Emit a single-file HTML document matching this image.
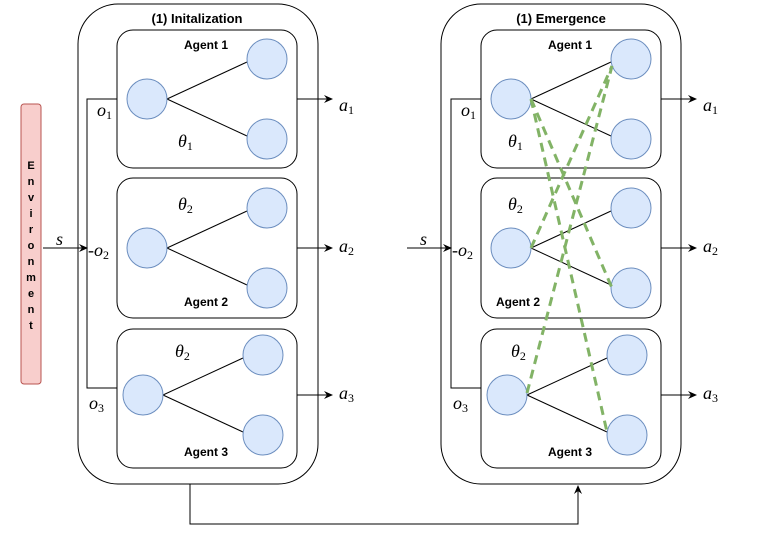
<!DOCTYPE html>
<html><head><style>body{margin:0;background:#fff}svg{display:block}</style></head><body>
<svg width="772" height="534" viewBox="0 0 772 534" xmlns="http://www.w3.org/2000/svg" font-family="Liberation Sans, sans-serif">
<defs><marker id="ar" markerWidth="10" markerHeight="10" refX="8" refY="5" orient="auto" markerUnits="userSpaceOnUse"><path d="M0,1 L9,5 L0,9 L3,5 Z" fill="#000"/></marker>
<g id="L">
<g fill="none" stroke="#000">
<rect x="117" y="30" width="180" height="138" rx="16"/>
<rect x="117" y="178" width="180" height="140" rx="16"/>
<rect x="117" y="329" width="180" height="139" rx="16"/>
<path d="M117,99 H87 V388 H117"/>
<line x1="167" y1="99" x2="247" y2="62"/><line x1="167" y1="99" x2="247" y2="136"/>
<line x1="167" y1="248" x2="247" y2="211"/><line x1="167" y1="248" x2="247" y2="285"/>
<line x1="163" y1="395" x2="243" y2="358"/><line x1="163" y1="395" x2="243" y2="432"/>
<line x1="297" y1="99" x2="332" y2="99" marker-end="url(#ar)"/>
<line x1="297" y1="248" x2="332" y2="248" marker-end="url(#ar)"/>
<line x1="297" y1="395" x2="332" y2="395" marker-end="url(#ar)"/>
</g>
<g fill="#dae8fc" stroke="#6c8ebf">
<circle cx="147" cy="99" r="20"/><circle cx="267" cy="59" r="20"/><circle cx="267" cy="139" r="20"/>
<circle cx="147" cy="248" r="20"/><circle cx="267" cy="208" r="20"/><circle cx="267" cy="288" r="20"/>
<circle cx="143" cy="395" r="20"/><circle cx="263" cy="355" r="20"/><circle cx="263" cy="435" r="20"/>
</g>
<g font-family="Liberation Serif, serif" font-style="italic" font-size="18">
<text x="97" y="116">o<tspan font-size="12" dy="3" font-style="normal">1</tspan></text>
<text x="88" y="256">-o<tspan font-size="12" dy="3" font-style="normal">2</tspan></text>
<text x="89" y="409">o<tspan font-size="12" dy="3" font-style="normal">3</tspan></text>
<text x="339" y="111">a<tspan font-size="12" dy="3" font-style="normal">1</tspan></text>
<text x="339" y="252">a<tspan font-size="12" dy="3" font-style="normal">2</tspan></text>
<text x="339" y="399">a<tspan font-size="12" dy="3" font-style="normal">3</tspan></text>
</g>
<g font-weight="bold" font-size="12" text-anchor="middle">
<text x="206" y="49">Agent 1</text>
<text x="206" y="456">Agent 3</text>
</g>
</g></defs>
<g fill="none" stroke="#000" stroke-width="1">
<rect x="21" y="104" width="20" height="280" rx="3" fill="#f8cecc" stroke="#b85450"/>
<rect x="78" y="4" width="240" height="480" rx="40"/>
<rect x="441" y="4" width="240" height="480" rx="40"/>
</g>
<g font-weight="bold" font-size="11" text-anchor="middle" fill="#000">
<text x="31" y="169">E</text><text x="31" y="185">n</text><text x="31" y="201">v</text><text x="31" y="217">i</text><text x="31" y="233">r</text><text x="31" y="249">o</text><text x="31" y="265">n</text><text x="31" y="281">m</text><text x="31" y="297">e</text><text x="31" y="313">n</text><text x="31" y="329">t</text>
<text x="197" y="23" font-size="13">(1) Initalization</text>
<text x="561" y="23" font-size="13">(1) Emergence</text>
</g>
<use href="#L"/>
<use href="#L" x="364" y="0"/>
<g font-family="Liberation Serif, serif" font-style="italic" font-size="18">
<text x="178" y="147">θ<tspan font-size="12" dy="3" font-style="normal">1</tspan></text>
<text x="178" y="210">θ<tspan font-size="12" dy="3" font-style="normal">2</tspan></text>
<text x="175" y="357">θ<tspan font-size="12" dy="3" font-style="normal">2</tspan></text>
<text x="508" y="147">θ<tspan font-size="12" dy="3" font-style="normal">1</tspan></text>
<text x="508" y="210">θ<tspan font-size="12" dy="3" font-style="normal">2</tspan></text>
<text x="511" y="357">θ<tspan font-size="12" dy="3" font-style="normal">2</tspan></text>
<text x="56" y="245">s</text><text x="420" y="245">s</text>
</g>
<g font-weight="bold" font-size="12" text-anchor="middle">
<text x="206" y="306">Agent 2</text>
<text x="518" y="306">Agent 2</text>
</g>
<g stroke="#82b366" stroke-width="3" stroke-dasharray="9,6" fill="none">
<line x1="531" y1="99" x2="612" y2="288"/>
<line x1="531" y1="99" x2="607" y2="432"/>
<line x1="531" y1="248" x2="612" y2="66"/>
<line x1="527" y1="393" x2="612" y2="66"/>
</g>
<g fill="none" stroke="#000">
<line x1="43" y1="248" x2="87" y2="248" marker-end="url(#ar)"/>
<line x1="407" y1="248" x2="451" y2="248" marker-end="url(#ar)"/>
<path d="M190,484 V524 H578 V486" marker-end="url(#ar)"/>
</g>
</svg>
</body></html>
